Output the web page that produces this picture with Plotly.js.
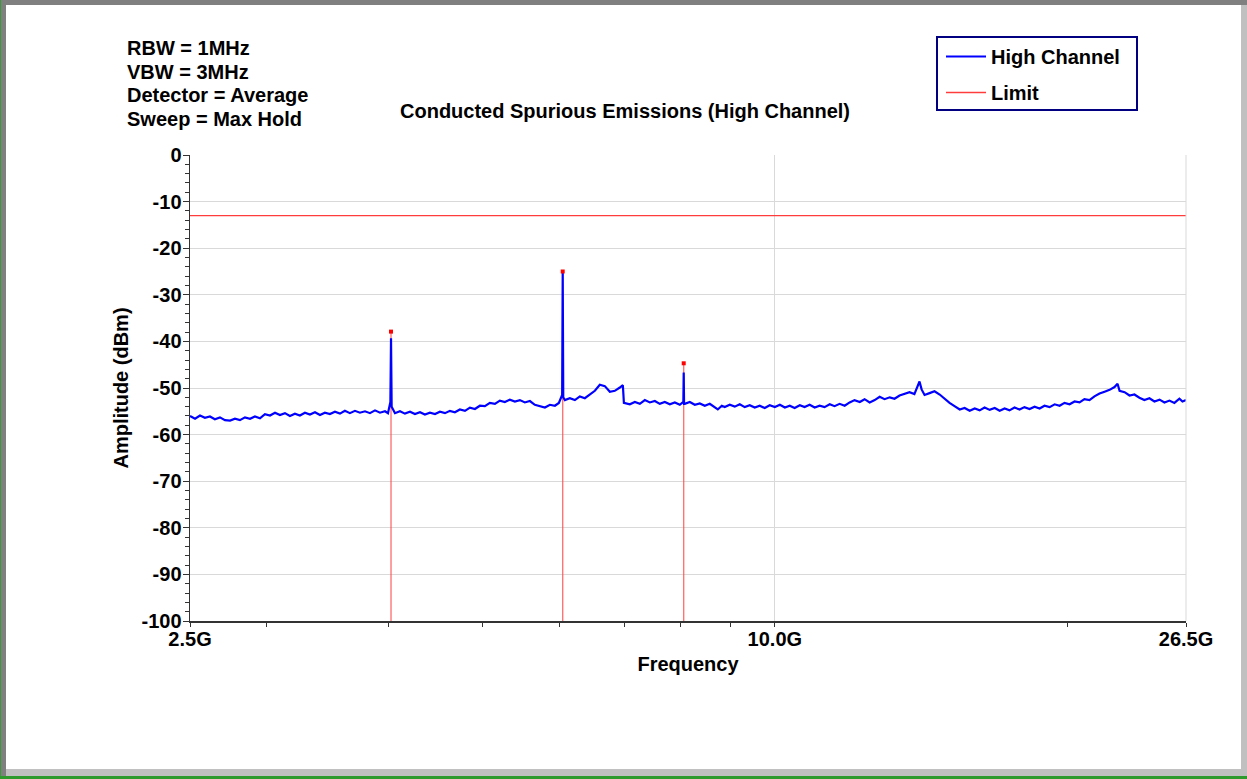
<!DOCTYPE html>
<html>
<head>
<meta charset="utf-8">
<script src="https://cdn.plot.ly/plotly-3.0.1.min.js"></script>
<style>
  html, body { margin: 0; padding: 0; background: #ffffff; overflow: hidden; }
  #chart { position: absolute; left: 0; top: 0; width: 1247px; height: 779px; }
  .frame { position: absolute; pointer-events: none; }
</style>
</head>
<body>
<div id="chart"></div>
<div class="frame" style="left:0;top:0;width:1247px;height:5px;background:#808080;"></div>
<div class="frame" style="left:0;top:0;width:6px;height:776px;background:#808080;"></div>
<div class="frame" style="left:0;top:0;width:1px;height:779px;background:#3a9a3a;"></div>
<div class="frame" style="left:1241px;top:5px;width:6px;height:771px;background:#c0c0c0;"></div>
<div class="frame" style="left:6px;top:769px;width:1241px;height:7px;background:#c0c0c0;"></div>
<div class="frame" style="left:0;top:776px;width:1247px;height:3px;background:#2e9a2e;"></div>
<script>
// Frequency in GHz, amplitude in dBm
const highFreq = [
  2.500, 2.530, 2.560, 2.590, 2.621, 2.652, 2.684, 2.716, 2.749, 2.781,
  2.814, 2.848, 2.882, 2.916, 2.951, 2.986, 3.022, 3.058, 3.094, 3.131,
  3.168, 3.206, 3.244, 3.283, 3.322, 3.362, 3.402, 3.442, 3.483, 3.525,
  3.567, 3.609, 3.652, 3.696, 3.740, 3.785, 3.830, 3.876, 3.922, 3.969,
  3.997, 4.020, 4.026, 4.032, 4.064, 4.112, 4.161, 4.211, 4.261, 4.312,
  4.363, 4.415, 4.468, 4.521, 4.575, 4.629, 4.684, 4.740, 4.797, 4.854,
  4.912, 4.970, 5.029, 5.089, 5.150, 5.211, 5.273, 5.336, 5.400, 5.464,
  5.529, 5.595, 5.662, 5.729, 5.798, 5.867, 5.937, 5.993, 6.040, 6.048,
  6.056, 6.079, 6.151, 6.225, 6.299, 6.374, 6.450, 6.527, 6.604, 6.683,
  6.763, 6.843, 6.925, 6.975, 6.992, 7.091, 7.176, 7.261, 7.348, 7.435,
  7.524, 7.613, 7.704, 7.796, 7.889, 7.983, 8.050, 8.057, 8.064, 8.078,
  8.174, 8.272, 8.370, 8.470, 8.570, 8.672, 8.735, 8.818, 8.880, 8.986,
  9.093, 9.202, 9.311, 9.422, 9.534, 9.648, 9.763, 9.879, 10.00, 10.12,
  10.24, 10.36, 10.48, 10.61, 10.73, 10.86, 10.99, 11.12, 11.25, 11.39,
  11.52, 11.66, 11.80, 11.94, 12.08, 12.23, 12.37, 12.52, 12.67, 12.82,
  12.97, 13.13, 13.28, 13.44, 13.60, 13.76, 13.92, 14.09, 14.16, 14.26,
  14.43, 14.60, 14.78, 14.95, 15.13, 15.31, 15.50, 15.68, 15.87, 16.06,
  16.25, 16.44, 16.64, 16.84, 17.04, 17.24, 17.44, 17.65, 17.86, 18.07,
  18.29, 18.51, 18.73, 18.95, 19.18, 19.41, 19.64, 19.87, 20.11, 20.35,
  20.59, 20.83, 21.08, 21.33, 21.59, 21.85, 22.11, 22.37, 22.53, 22.64,
  22.91, 23.18, 23.45, 23.73, 24.01, 24.30, 24.59, 24.89, 25.18, 25.48,
  25.78, 26.09, 26.28, 26.50
];
const highAmp = [
  -56.0, -56.6, -55.9, -56.4, -56.1, -56.7, -56.3, -56.9, -57.0, -56.6,
  -56.9, -56.3, -56.6, -56.1, -56.5, -55.6, -55.9, -55.3, -55.8, -55.4,
  -56.0, -55.5, -55.9, -55.3, -55.7, -55.2, -55.8, -55.3, -55.6, -55.1,
  -55.5, -54.9, -55.4, -54.9, -55.3, -55.0, -55.4, -54.8, -55.3, -55.0,
  -55.4, -53.0, -39.3, -54.0, -55.4, -55.0, -55.5, -55.1, -55.6, -55.2,
  -55.7, -55.3, -55.6, -55.1, -55.4, -54.9, -55.2, -54.6, -54.9, -54.2,
  -54.5, -53.8, -53.9, -53.2, -53.4, -52.7, -53.0, -52.5, -52.9, -52.6,
  -53.1, -52.8, -53.6, -53.9, -54.2, -53.6, -53.8, -53.2, -51.5, -25.3,
  -52.0, -52.6, -52.2, -52.6, -51.8, -52.2, -51.3, -50.6, -49.3, -49.6,
  -50.8, -50.6, -49.9, -49.4, -53.2, -53.5, -53.0, -53.4, -52.6, -53.1,
  -52.8, -53.4, -53.0, -53.5, -53.1, -53.6, -53.0, -46.7, -53.4, -53.4,
  -53.0, -53.6, -53.3, -53.8, -53.4, -54.2, -54.6, -53.8, -54.1, -53.6,
  -54.0, -53.5, -54.1, -53.7, -54.2, -53.8, -54.3, -53.7, -54.1, -53.6,
  -54.2, -53.8, -54.3, -53.7, -54.1, -53.6, -54.2, -53.8, -54.1, -53.5,
  -53.9, -53.4, -53.8, -53.1, -52.6, -53.0, -52.4, -53.1, -52.6, -51.9,
  -52.4, -52.0, -52.3, -51.6, -51.2, -50.9, -51.3, -48.6, -50.3, -51.5,
  -51.1, -50.7, -51.4, -52.3, -53.2, -53.9, -54.6, -54.3, -54.9, -54.4,
  -54.8, -54.2, -54.7, -54.3, -54.9, -54.4, -54.8, -54.2, -54.6, -54.1,
  -54.5, -54.0, -54.4, -53.8, -54.1, -53.5, -53.8, -53.2, -53.5, -52.9,
  -53.1, -52.4, -52.6, -51.8, -51.2, -50.8, -50.4, -49.8, -49.1, -50.6,
  -50.9, -51.6, -51.4, -52.1, -52.6, -52.2, -52.9, -52.5, -53.1, -52.7,
  -53.2, -52.3, -52.9, -52.6
];
const limitFreq = [2.5, 26.5];
const limitAmp = [-13, -13];
const peakFreq = [4.026, 6.048, 8.057];
const peakAmp = [-37.9, -25.0, -44.7];
const xTickVals = [2.5, 10, 26.5];
const xTickText = ['2.5G', '10.0G', '26.5G'];
const xMinorVals = [3, 4, 5, 6, 7, 8, 9, 20];
const yTickVals = [0, -10, -20, -30, -40, -50, -60, -70, -80, -90, -100];
const yTickText = ['0', '-10', '-20', '-30', '-40', '-50', '-60', '-70', '-80', '-90', '-100'];
const yRange = [-100, 0];
const infoLines = ['RBW = 1MHz', 'VBW = 3MHz', 'Detector = Average', 'Sweep = Max Hold'];

// vertical marker lines from each peak down to the axis floor
const markX = [], markY = [];
peakFreq.forEach((f, i) => { markX.push(f, f, null); markY.push(peakAmp[i], yRange[0], null); });

const FONT = 'Liberation Sans, Arial, sans-serif';
const boldFont = (size) => ({ family: FONT, size: size, color: '#000000', weight: 'bold' });

const traces = [
  { x: markX, y: markY, type: 'scatter', mode: 'lines', showlegend: false, hoverinfo: 'skip',
    line: { color: 'rgba(255,70,70,0.8)', width: 1.3 } },
  { x: highFreq, y: highAmp, type: 'scatter', mode: 'lines', name: 'High Channel', legendgroup: 'a',
    line: { color: '#0000ff', width: 2.2 } },
  { x: limitFreq, y: limitAmp, type: 'scatter', mode: 'lines', name: 'Limit', legendgroup: 'b',
    line: { color: '#ff3c3c', width: 1.3 } },
  { x: peakFreq, y: peakAmp, type: 'scatter', mode: 'markers', showlegend: false,
    marker: { color: '#ff0000', size: 4, symbol: 'square' } }
];

const px = (x) => (x - 190) / 996;
const py = (y) => (621 - y) / 466;

const annotations = infoLines.map((t, i) => ({
  text: t, xref: 'paper', yref: 'paper', x: px(125), y: py(48 + i * 23.7),
  xanchor: 'left', yanchor: 'middle', showarrow: false, font: boldFont(20)
}));
annotations.push({
  text: 'Conducted Spurious Emissions (High Channel)', xref: 'paper', yref: 'paper',
  x: px(625), y: py(111), xanchor: 'center', yanchor: 'middle',
  showarrow: false, font: boldFont(20)
});

const layout = {
  width: 1247, height: 779,
  margin: { l: 190, r: 61, t: 155, b: 158, pad: 0 },
  paper_bgcolor: '#ffffff', plot_bgcolor: '#ffffff',
  showlegend: true,
  legend: {
    x: px(941), y: py(37), xanchor: 'left', yanchor: 'top',
    bgcolor: 'rgba(0,0,0,0)', borderwidth: 0,
    font: boldFont(20), tracegroupgap: 7, itemwidth: 40
  },
  xaxis: {
    type: 'log', range: [Math.log10(2.5), Math.log10(26.5)],
    tickmode: 'array', tickvals: xTickVals, ticktext: xTickText,
    ticks: 'outside', ticklen: 4, tickcolor: '#333333', ticklabelstandoff: -5,
    showgrid: true, gridcolor: '#d9d9d9', gridwidth: 1,
    showline: true, linecolor: '#333333', linewidth: 1.5,
    zeroline: false, tickfont: boldFont(20),
    minor: { tickvals: xMinorVals, ticks: 'outside', ticklen: 4, tickcolor: '#333333', showgrid: false },
    title: { text: 'Frequency', font: boldFont(20), standoff: 8 }
  },
  yaxis: {
    range: yRange, tickmode: 'array', tickvals: yTickVals, ticktext: yTickText,
    ticks: 'outside', ticklen: 6, tickcolor: '#333333', ticklabelstandoff: -3,
    showgrid: true, gridcolor: '#d9d9d9', gridwidth: 1,
    showline: true, linecolor: '#333333', linewidth: 1.5,
    zeroline: false, tickfont: boldFont(20),
    minor: { dtick: 2, ticks: 'outside', ticklen: 4, tickcolor: '#333333', showgrid: false },
    title: { text: 'Amplitude (dBm)', font: boldFont(20), standoff: 7 }
  },
  shapes: [
    { type: 'line', xref: 'paper', yref: 'paper', x0: 1, x1: 1, y0: 0, y1: 1,
      line: { color: '#d9d9d9', width: 1 } },
    { type: 'rect', xref: 'paper', yref: 'paper', x0: px(937), x1: px(1137), y0: py(110), y1: py(37),
      line: { color: '#000080', width: 2 }, fillcolor: 'rgba(0,0,0,0)' }
  ],
  annotations: annotations
};

Plotly.newPlot('chart', traces, layout, { displayModeBar: false, staticPlot: true });
</script>
</body>
</html>
